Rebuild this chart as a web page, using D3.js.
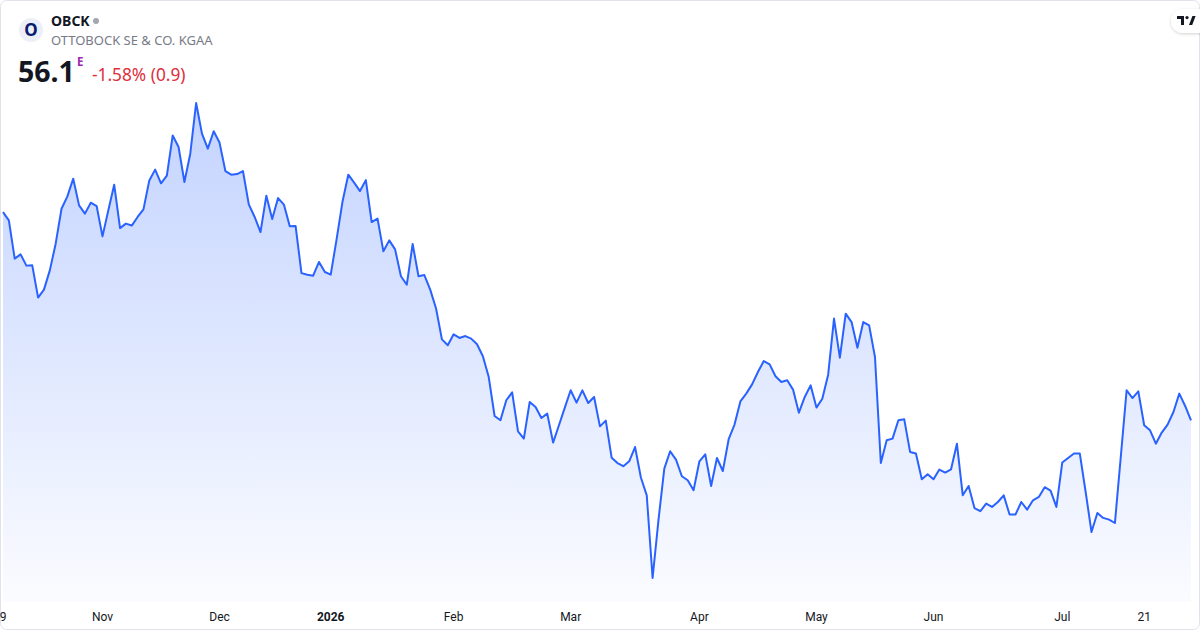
<!DOCTYPE html>
<html>
<head>
<meta charset="utf-8">
<script src="https://cdn.jsdelivr.net/npm/d3@7"></script>
<style>
  html, body { margin: 0; padding: 0; background: #fff; }
  svg { display: block; }
</style>
</head>
<body>
<svg id="chart" width="1200" height="630"></svg>
<script>
// closing prices, one per trading session (Oct 9 2025 .. late Jul 2026)
const prices = [
  69.20, 68.68, 66.27, 66.54, 65.83, 65.85, 63.82, 64.32, 65.53, 67.21,
  69.41, 70.19, 71.30, 69.62, 69.10, 69.79, 69.58, 67.67, 69.31, 70.92,
  68.19, 68.47, 68.35, 68.89, 69.37, 71.19, 71.87, 71.01, 71.49, 74.02,
  73.29, 71.09, 72.87, 76.06, 74.13, 73.19, 74.28, 73.57, 71.78, 71.55,
  71.59, 71.78, 69.68, 68.89, 67.94, 70.23, 68.76, 70.08, 69.67, 68.30,
  68.32, 65.36, 65.26, 65.20, 66.06, 65.43, 65.26, 67.48, 69.83, 71.55,
  71.05, 70.52, 71.21, 68.57, 68.79, 66.73, 67.42, 66.85, 65.16, 64.63,
  67.19, 65.16, 65.24, 64.32, 63.13, 61.19, 60.82, 61.51, 61.28, 61.40,
  61.24, 60.88, 60.13, 58.82, 56.37, 56.10, 57.36, 57.86, 55.41, 54.95,
  57.25, 56.94, 56.24, 56.52, 54.70, 55.79, 56.90, 57.99, 57.21, 57.98,
  57.19, 57.57, 55.72, 56.08, 53.75, 53.41, 53.21, 53.52, 54.42, 52.50,
  51.38, 46.18, 49.81, 53.06, 54.15, 53.63, 52.58, 52.33, 51.70, 53.52,
  53.96, 51.97, 53.73, 52.91, 54.91, 55.83, 57.29, 57.78, 58.36, 59.14,
  59.83, 59.62, 58.87, 58.51, 58.62, 58.03, 56.58, 57.57, 58.30, 56.90,
  57.46, 58.97, 62.50, 60.04, 62.81, 62.28, 60.67, 62.28, 62.07, 60.08,
  53.41, 54.84, 54.95, 56.10, 56.16, 54.11, 54.01, 52.39, 52.70, 52.39,
  53.00, 52.81, 53.02, 54.63, 51.38, 51.97, 50.58, 50.38, 50.86, 50.65,
  50.96, 51.38, 50.17, 50.17, 50.96, 50.48, 51.07, 51.28, 51.89, 51.68,
  50.65, 53.44, 53.73, 54.01, 54.01, 51.59, 49.07, 50.27, 49.96, 49.85,
  49.64, 53.79, 57.99, 57.50, 57.92, 55.79, 55.47, 54.63, 55.33, 55.83,
  56.62, 57.78, 57.00, 56.10
];

// axis labels and the session index they sit on
const tickLabels = ["9", "Nov", "Dec", "2026", "Feb", "Mar", "Apr", "May", "Jun", "Jul", "21"];
const tickIndex  = [0, 17, 37, 56, 77, 97, 119, 139, 159, 181, 195];
const boldTicks  = ["2026"];

const symbol = "OBCK";
const companyName = "OTTOBOCK SE & CO. KGAA";
const lastPrice = "56.1";
const changeText = "-1.58% (0.9)";

const width = 1200, height = 630;
const svg = d3.select("#chart");

// card border
svg.append("rect")
  .attr("x", 0.5).attr("y", 0.5)
  .attr("width", width - 1).attr("height", height - 1)
  .attr("rx", 6)
  .attr("fill", "#fff")
  .attr("stroke", "#e0e3eb");

const xScale = d3.scaleLinear().domain([0, prices.length - 1]).range([3, 1191]);
const yScale = d3.scaleLinear().domain(d3.extent(prices)).range([578, 103]);

const defs = svg.append("defs");
const grad = defs.append("linearGradient")
  .attr("id", "areaGrad")
  .attr("gradientUnits", "userSpaceOnUse")
  .attr("x1", 0).attr("y1", 100).attr("x2", 0).attr("y2", 602);
grad.append("stop").attr("offset", "0%").attr("stop-color", "#2962ff").attr("stop-opacity", 0.28);
grad.append("stop").attr("offset", "100%").attr("stop-color", "#2962ff").attr("stop-opacity", 0.02);

const shadow = defs.append("filter").attr("id", "logoShadow")
  .attr("x", "-50%").attr("y", "-50%").attr("width", "200%").attr("height", "200%");
shadow.append("feDropShadow").attr("dx", 0).attr("dy", 1).attr("stdDeviation", 1.5)
  .attr("flood-color", "#000").attr("flood-opacity", 0.18);

const area = d3.area()
  .x((d, i) => xScale(i))
  .y0(602)
  .y1(d => yScale(d));

const line = d3.line()
  .x((d, i) => xScale(i))
  .y(d => yScale(d));

svg.append("path")
  .datum(prices)
  .attr("d", area)
  .attr("fill", "url(#areaGrad)");

svg.append("path")
  .datum(prices)
  .attr("d", line)
  .attr("fill", "none")
  .attr("stroke", "#2962ff")
  .attr("stroke-width", 2)
  .attr("stroke-linejoin", "round");

// x axis labels
const ticks = tickLabels.map((label, k) => ({ label, i: tickIndex[k] }));
svg.append("g")
  .selectAll("text")
  .data(ticks)
  .join("text")
  .attr("x", d => xScale(d.i))
  .attr("y", 621)
  .attr("text-anchor", "middle")
  .attr("font-family", "Roboto, 'Liberation Sans', sans-serif")
  .attr("font-size", 12)
  .attr("font-weight", d => boldTicks.includes(d.label) ? 700 : 400)
  .attr("fill", "#131722")
  .text(d => d.label);

// header
const header = svg.append("g").attr("font-family", "'Noto Sans', 'Open Sans', sans-serif");

header.append("circle").attr("cx", 31).attr("cy", 30).attr("r", 12).attr("fill", "#eceff7");
header.append("text")
  .attr("x", 31).attr("y", 36)
  .attr("text-anchor", "middle")
  .attr("font-size", 17).attr("font-weight", 700)
  .attr("fill", "#0a1a6e")
  .text("O");

header.append("text")
  .attr("x", 51).attr("y", 26)
  .attr("font-size", 14).attr("font-weight", 700)
  .attr("fill", "#131722")
  .text(symbol);
header.append("circle").attr("cx", 96).attr("cy", 21).attr("r", 3).attr("fill", "#a3a6af");

header.append("text")
  .attr("x", 51).attr("y", 45)
  .attr("font-size", 13)
  .attr("fill", "#787b86")
  .text(companyName);

header.append("text")
  .attr("x", 18).attr("y", 82)
  .attr("font-size", 28.5).attr("font-weight", 700)
  .attr("fill", "#131722")
  .text(lastPrice);
header.append("text")
  .attr("x", 77).attr("y", 66)
  .attr("font-size", 11.5).attr("font-weight", 700)
  .attr("fill", "#9c27b0")
  .text("E");
header.append("text")
  .attr("x", 92).attr("y", 81)
  .attr("font-size", 17.3)
  .attr("fill", "#dd2f3d")
  .text(changeText);

// TradingView badge
const badge = svg.append("g");
badge.append("rect")
  .attr("x", 1171).attr("y", 9).attr("width", 40).attr("height", 24).attr("rx", 12)
  .attr("fill", "#fff").attr("filter", "url(#logoShadow)");
badge.append("path")
  .attr("d", "M1177 16h7v9h-3v-6h-4z M1189 25l3.4-9h3.2l-3.4 9z")
  .attr("fill", "#131722");
badge.append("circle").attr("cx", 1187).attr("cy", 17.6).attr("r", 1.6).attr("fill", "#131722");
</script>
</body>
</html>
